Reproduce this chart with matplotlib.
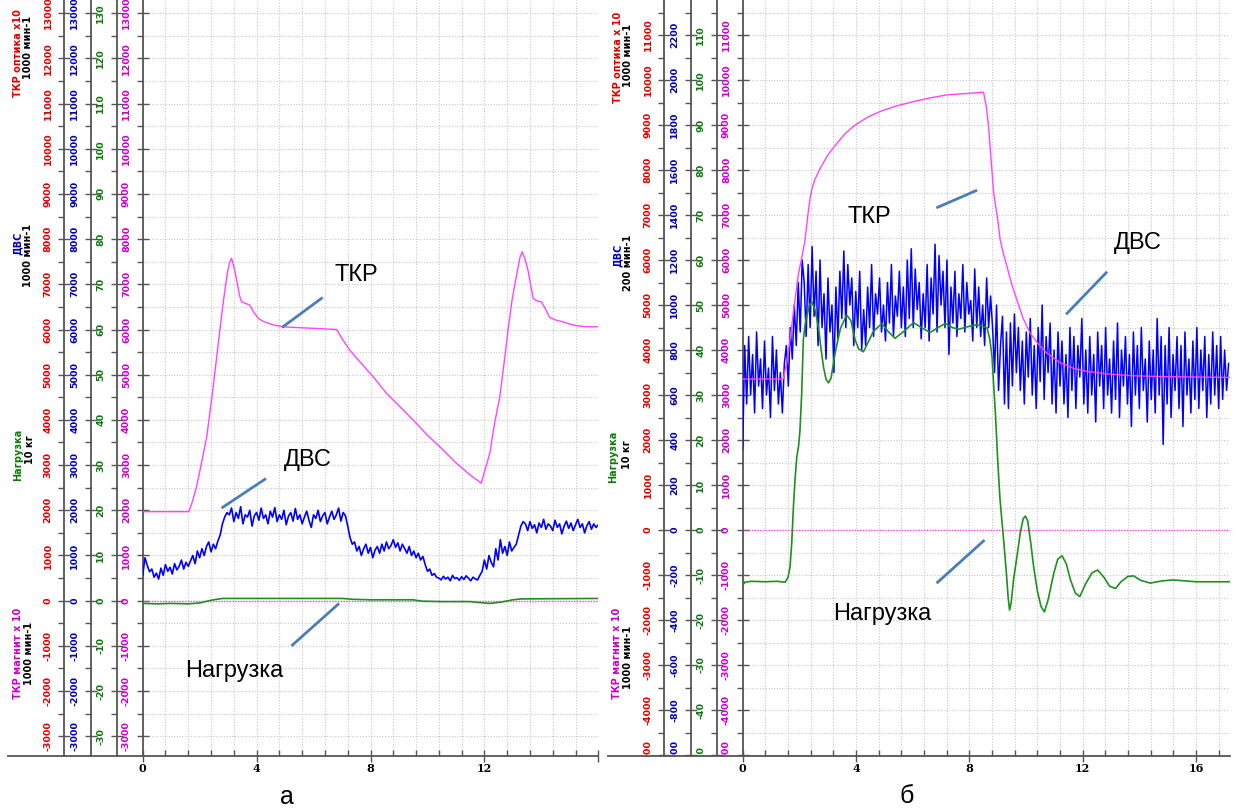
import matplotlib.pyplot as plt
import numpy as np
from matplotlib.ticker import MultipleLocator, FuncFormatter
from matplotlib.lines import Line2D
from matplotlib.transforms import Bbox, TransformedBbox

plt.rcParams['axes.unicode_minus'] = False

# ---------------- panel "а" ----------------
# ТКР (оптика), values on the red scale
t_tkr_a = [0, 1.62, 1.75, 1.89, 2.05, 2.25, 2.45, 2.71, 2.85, 2.97, 3.05, 3.12, 3.2, 3.3,
           3.4, 3.47, 3.6, 3.76, 3.9, 4.06, 4.2, 4.35, 4.6, 4.93, 5.5, 6.2, 6.81, 7.0,
           7.27, 7.62, 8.1, 8.56, 9.1, 9.61, 10.0, 10.43, 11.0, 11.5, 11.89, 12.0, 12.19,
           12.35, 12.54, 12.7, 12.83, 12.97, 13.12, 13.25, 13.33, 13.43, 13.53, 13.62,
           13.71, 13.85, 14.0, 14.15, 14.29, 14.5, 14.76, 15.0, 15.23, 15.6, 16.0]
tkr_a = [1970, 1970, 2200, 2520, 3000, 3630, 4600, 5990, 6700, 7240, 7480, 7575, 7400, 7095,
         6750, 6615, 6580, 6540, 6380, 6250, 6190, 6150, 6100, 6060, 6040, 6020, 6000, 5800,
         5545, 5290, 4950, 4590, 4250, 3925, 3660, 3410, 3050, 2780, 2600, 2850, 3260,
         3900, 4510, 5300, 5990, 6650, 7170, 7600, 7720, 7550, 7315, 7000,
         6690, 6630, 6615, 6450, 6270, 6210, 6170, 6120, 6085, 6060, 6060]

# ДВС, sampled every 0.08 s
dvs_a = [560, 950, 780, 640, 700, 520, 610, 480, 720, 560, 800, 650, 740, 590, 820, 680, 760, 900, 700, 850, 760,
         880, 1000, 820, 1100, 950, 1150, 1000, 1200, 1300, 1080, 1250, 1150, 1320,
         1450, 1700, 1850, 1950,
         1900, 2050, 1750, 1950, 1820, 2080, 1700, 1900, 1850, 2000,
         1650, 1880, 1950, 1780, 2050, 1820, 1900, 1700, 1980, 1850,
         2060, 1750, 1900, 1800, 2000, 1680, 1870, 1950, 1760, 2040,
         1800, 1900, 1700, 1850, 1980, 1780, 1620, 1900, 1820, 2000,
         1750, 1880, 1950, 1700, 1850, 1980, 1800, 1900, 2050, 1760,
         1950, 1880,
         1650, 1400, 1250,
         1300, 1100, 1200, 1000, 1150, 1250, 1050, 1180, 950, 1120,
         1200, 1050, 1250, 1100, 1300, 1150, 1220, 1350, 1180, 1280,
         1100, 1250, 1150, 1050, 1200, 1000, 1100, 950, 1050, 900, 980,
         800, 650, 700, 560, 600, 520,
         500, 460, 540, 480, 520, 440, 560, 490, 510, 450, 530, 470, 550, 500, 440, 520, 480, 460, 560,
         650, 900, 700, 1000, 850, 750, 1150, 900, 1350, 1050, 1200, 1000, 1300, 1100, 1180, 1250,
         1450, 1650, 1750,
         1700, 1550, 1750, 1600, 1680, 1500, 1720, 1620, 1800, 1580,
         1700, 1650, 1550, 1780, 1620, 1700, 1480, 1650, 1760, 1600,
         1720, 1550, 1680, 1800, 1620, 1700, 1500, 1660, 1750, 1580,
         1700, 1620, 1680]
dt_a = 0.08

# Нагрузка, green scale (10 кг)
t_load_a = [0, 0.5, 1.0, 1.6, 2.0, 2.4, 2.8, 3.2, 5.0, 7.0, 7.4, 8.0, 9.5, 9.8, 10.5,
            11.5, 11.8, 12.2, 12.6, 13.0, 13.3, 16.0]
load_a = [-0.6, -0.7, -0.6, -0.7, -0.5, 0.1, 0.5, 0.5, 0.5, 0.5, 0.3, 0.2, 0.2, -0.1, -0.2,
          -0.2, -0.4, -0.6, -0.3, 0.2, 0.4, 0.5]

# ТКР (магнит)
t_mag_a = [0, 16]
mag_a = [0, 0]

# ---------------- panel "б" ----------------
t_tkr_b = [0, 1.43, 1.55, 1.67, 1.8, 1.97, 2.1, 2.2, 2.3, 2.38, 2.46, 2.55, 2.73, 3.0, 3.32,
           3.6, 3.97, 4.4, 4.85, 5.4, 6.03, 6.6, 7.21, 7.9, 8.5, 8.6, 8.68, 8.77, 8.86, 9.0,
           9.09, 9.2, 9.33, 9.5, 9.68, 9.9, 10.15, 10.45, 10.74, 11.2, 11.68, 12.2, 12.86,
           13.7, 14.63, 16.0, 17.2]
tkr_b = [3355, 3355, 3700, 4220, 4900, 5700, 6100, 6440, 7000, 7380, 7620, 7790, 8030, 8330, 8590,
         8800, 9000, 9170, 9300, 9420, 9520, 9600, 9670, 9700, 9730, 9400, 8960, 8200, 7480, 6900,
         6440, 6150, 5850, 5450, 5110, 4700, 4370, 4120, 3930, 3720, 3590, 3520, 3470,
         3430, 3410, 3400, 3390]

# ДВС, blue scale (200 мин-1), sampled every 0.07 s
dvs_b = [360, 820, 560, 860, 600, 780, 520, 880, 640, 760,
         540, 840, 600, 720, 500, 860, 620, 800, 560, 700, 520, 740,
         820, 640, 900, 760, 1000, 820, 1100, 880, 1200,
         1100, 860, 1180, 900, 1260, 950, 1150, 820, 1200, 900,
         1050, 760, 1120, 880, 1000, 700, 1080, 850, 1150, 940,
         1240, 900, 1180, 1000, 1120, 820, 1060, 900, 1150, 800,
         980, 820, 1080, 900, 1180, 860, 1050, 960, 1120, 880,
         1000, 840, 1100, 920, 1180, 860, 1040, 950, 1150, 900,
         1080, 860, 1200, 940, 1250, 900, 1160, 980, 1100, 850,
         1050, 900, 1180, 840, 1120, 960, 1270, 880, 1220, 1000,
         1150, 900, 1200, 780, 1080, 920, 1150, 860, 1050, 940,
         1180, 880, 1100, 960, 1020, 840, 1160, 900, 1080, 860,
         1000, 820, 1120, 900, 1040,
         900, 700, 1000, 620, 820, 950, 560, 880, 540, 920, 640,
         960, 700, 900, 620, 840, 560, 880, 680, 940, 600,
         820, 540, 900, 660, 1000, 580, 860, 700, 920, 560,
         800, 520, 880, 640, 840, 560, 780, 500, 900, 620,
         860, 540, 820, 680, 940, 560, 800, 520, 860, 600,
         780, 480, 880, 640, 820, 540, 900, 600, 760, 520,
         840, 580, 920, 500, 800, 640, 860, 560, 780, 460,
         880, 600, 820, 540, 900, 620, 760, 480, 840, 580,
         800, 520, 940, 600, 860, 380, 820, 560, 900, 500,
         780, 620, 860, 540, 820, 460, 880, 600, 760, 520,
         840, 580, 900, 540, 800, 620, 860, 500, 780, 560,
         880, 600, 820, 540, 860, 580, 800, 620, 740]
dt_b = 0.07

# Нагрузка, green scale (10 кг)
t_load_b = [0, 0.03, 0.08, 0.3, 0.8, 1.2, 1.5, 1.6, 1.67, 1.73, 1.79, 1.85, 1.91, 1.97, 2.02,
            2.08, 2.14, 2.2, 2.26, 2.35, 2.44, 2.55, 2.67, 2.76, 2.85, 2.94, 3.03, 3.12, 3.26,
            3.45, 3.67, 3.82, 3.97, 4.1, 4.26, 4.45, 4.61, 4.91, 5.15, 5.38, 5.7, 6.03, 6.3,
            6.62, 6.9, 7.15, 7.4, 7.62, 7.95, 8.27, 8.45, 8.62, 8.72, 8.8, 8.86, 8.92, 9.0,
            9.08, 9.15, 9.21, 9.3, 9.37, 9.42, 9.48, 9.56, 9.68, 9.8, 9.9, 9.98, 10.06, 10.17,
            10.27, 10.4, 10.53, 10.65, 10.78, 10.98, 11.12, 11.27, 11.42, 11.57, 11.74, 11.9,
            12.1, 12.33, 12.53, 12.75, 12.95, 13.16, 13.35, 13.6, 13.8, 14.05, 14.39, 14.8,
            15.2, 16.0, 17.2]
load_b = [-9.3, -12.0, -11.6, -11.4, -11.5, -11.4, -11.6, -10.5, -8.2, -3.0, 5.2, 11.5, 16.3, 18.5, 22.0,
          30.0, 42.2, 45.5, 47.4, 49.8, 50.7, 49.0, 45.2, 40.5, 36.3, 33.5, 32.7, 33.8, 39.3,
          44.8, 47.8, 46.5, 42.2, 40.2, 39.6, 42.0, 44.1, 45.9, 44.0, 42.6, 44.2, 46.1, 45.0,
          43.9, 45.0, 45.9, 45.0, 44.6, 45.2, 45.6, 45.3, 45.0, 42.5, 38.5, 32.0, 25.9, 15.6,
          7.0, 2.0, -2.2, -9.0, -15.0, -17.8, -16.0, -11.0, -5.9, -0.5, 2.5, 3.1, 2.0, -3.0,
          -8.2, -13.5, -17.0, -18.2, -15.5, -9.6, -6.5, -5.7, -7.5, -11.1, -14.0, -14.8,
          -12.0, -9.5, -8.9, -10.5, -12.5, -13.0, -11.5, -10.3, -10.2, -11.2, -11.8, -11.3,
          -11.1, -11.5, -11.5]

t_mag_b = [0, 17.2]
mag_b = [0, 0]

RED = '#dd0000'
BLUE = '#0000b4'
GREEN = '#0b7a0b'
MAG = '#cc00cc'
AXC = '#555555'
NOTE = '#4a7ebb'
NARROW = ['Liberation Sans Narrow', 'Liberation Sans', 'DejaVu Sans']

W, H = 1241, 809
BOT = 756  # pixel row of the time axis

fig = plt.figure(figsize=(W / 100, H / 100), dpi=100)
clip = TransformedBbox(Bbox([[0, 1 - BOT / H], [1, 1]]), fig.transFigure)


def style_scale(a, step, color):
    a.yaxis.set_major_locator(MultipleLocator(step))
    a.yaxis.set_minor_locator(MultipleLocator(step / 2))
    a.yaxis.set_major_formatter(FuncFormatter(lambda v, p: '%d' % round(v)))
    a.tick_params(axis='y', which='major', direction='inout', length=9, width=1, color=AXC,
                  pad=4, labelsize=6.8, labelcolor=color, labelrotation=90)
    a.tick_params(axis='y', which='minor', direction='out', length=4, width=1, color=AXC)
    for lab in a.get_yticklabels():
        lab.set_fontweight('bold')
        lab.set_va('center')
        lab.set_clip_box(clip)
        lab.set_clip_on(True)


def scale_axis(ax, x0, w, lx, ylim, k, color):
    tw = ax.twinx()
    tw.set_ylim(ylim[0] * k, ylim[1] * k)
    for s in ['right', 'top', 'bottom']:
        tw.spines[s].set_visible(False)
    tw.spines['left'].set_visible(True)
    tw.spines['left'].set_position(('axes', -(x0 - lx) / w))
    tw.spines['left'].set_color(AXC)
    tw.spines['left'].set_linewidth(1.3)
    tw.yaxis.set_ticks_position('left')
    tw.yaxis.set_label_position('left')
    style_scale(tw, 1000 * k, color)
    return tw


def panel(x0, x1, xmax, ylim, k_blue, lines_px, xlabels):
    w = x1 - x0
    ax = fig.add_axes([x0 / W, 1 - BOT / H, w / W, BOT / H])
    ax.set_xlim(0, xmax)
    ax.set_ylim(ylim)
    ax.spines[['top', 'right']].set_visible(False)
    for s in ['left', 'bottom']:
        ax.spines[s].set_color(AXC)
        ax.spines[s].set_linewidth(1.3)
    ax.set_xticks([0, 4, 8, 12, 16])
    ax.set_xticklabels(xlabels)
    ax.xaxis.set_minor_locator(MultipleLocator(0.8))
    ax.tick_params(axis='x', which='major', direction='inout', length=8, width=1, color=AXC,
                   labelsize=8, pad=1)
    ax.tick_params(axis='x', which='minor', direction='in', length=4, width=1, color=AXC)
    for lab in ax.get_xticklabels():
        lab.set_fontfamily('DejaVu Serif')
        lab.set_fontweight('bold')
    style_scale(ax, 1000, MAG)
    ax.grid(which='both', color='#c6c6c6', ls=(0, (1, 1.5)), lw=0.8)
    fig.add_artist(Line2D([(lines_px[0] - 56) / W, x0 / W], [1 - BOT / H] * 2, color=AXC, lw=1.3))
    blue = scale_axis(ax, x0, w, lines_px[1], ylim, k_blue, BLUE)
    green = scale_axis(ax, x0, w, lines_px[2], ylim, 0.01, GREEN)
    red = scale_axis(ax, x0, w, lines_px[0], ylim, 1, RED)
    return ax, blue, green, red


def note(a, text, tx, ty, x1, y1, x2, y2):
    a.text(tx, ty, text, fontsize=17, ha='center', va='center', family=NARROW, color='black')
    a.plot([x1, x2], [y1, y2], color=NOTE, lw=2)


def titles(xl, specs):
    for dx, y, text, color in specs:
        fig.text((xl + dx) / W, 1 - y / H, text, rotation=90, color=color, fontsize=7,
                 fontweight='bold', ha='center', va='center')


# ---- panel а ----
ax, blue, green, red = panel(142.7, 598.3, 16, (-3436, 13290), 1, [64.3, 91, 117],
                             ['0', '4', '8', '12', ''])
ax.plot(t_mag_a, mag_a, color='#ff44ff', ls=(0, (1, 1)), lw=1)
blue.plot(np.arange(len(dvs_a)) * dt_a, dvs_a, color='#0000ff', lw=1.2)
green.plot(t_load_a, load_a, color='#1f8f1f', lw=1.2)
red.plot(t_tkr_a, tkr_a, color='#ff44ff', lw=1)
note(red, 'ТКР', 7.51, 7206, 4.93, 6062, 6.28, 6690)
note(red, 'ДВС', 5.8, 3113, 2.81, 2066, 4.29, 2686)
note(red, 'Нагрузка', 3.2, -1555, 5.26, -980, 6.86, -80)
titles(0, [(18, 53, 'ТКР оптика x10', RED), (28, 47, '1000 мин-1', 'black'),
           (18, 243, 'ДВС', BLUE), (28, 255, '1000 мин-1', 'black'),
           (18, 455, 'Нагрузка', GREEN), (30, 450, '10 кг', 'black'),
           (18, 653, 'ТКР магнит x 10', MAG), (29, 653, '1000 мин-1', 'black')])
fig.text(287 / W, 1 - 797 / H, 'а', fontsize=18, ha='center', va='center', family='Liberation Sans')

# ---- panel б ----
ax, blue, green, red = panel(742.7, 1230, 17.2, (-5022, 11778), 0.2, [664.3, 691, 717],
                             ['0', '4', '8', '12', '16'])
ax.plot(t_mag_b, mag_b, color='#ff44ff', ls=(0, (1, 1)), lw=1)
blue.plot(np.arange(len(dvs_b)) * dt_b, dvs_b, color='#0000ff', lw=1.1)
green.plot(t_load_b, load_b, color='#1f8f1f', lw=1.2)
red.plot(t_tkr_b, tkr_b, color='#ff44ff', lw=1)
note(red, 'ТКР', 4.46, 6956, 6.88, 7171, 8.23, 7540)
note(red, 'ДВС', 13.93, 6378, 11.45, 4816, 12.83, 5718)
note(red, 'Нагрузка', 4.91, -1867, 6.88, -1162, 8.5, -244)
titles(600, [(18, 57, 'ТКР оптика x 10', RED), (28, 55, '1000 мин-1', 'black'),
             (18, 255, 'ДВС', BLUE), (28, 263, '200 мин-1', 'black'),
             (13, 457, 'Нагрузка', GREEN), (27, 455, '10 кг', 'black'),
             (17, 653, 'ТКР магнит x 10', MAG), (28, 657, '1000 мин-1', 'black')])
fig.text(907 / W, 1 - 796 / H, 'б', fontsize=18, ha='center', va='center', family='Liberation Sans')

fig.savefig('out.png', dpi=100)
